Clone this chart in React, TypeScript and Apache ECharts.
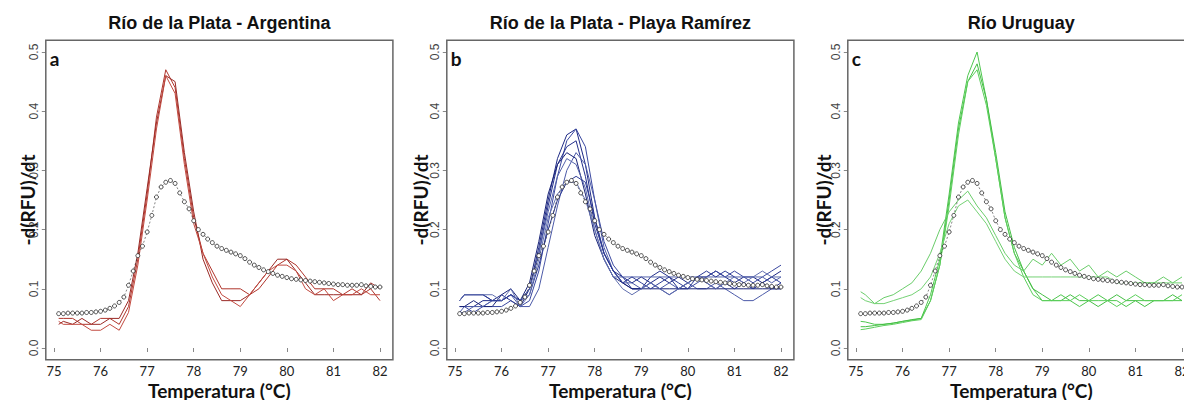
import React, { useEffect, useRef } from "react";
import * as echarts from "echarts";

// ---------- data ----------
const PANEL_TITLES = ["Río de la Plata - Argentina", "Río de la Plata - Playa Ramírez", "Río Uruguay"];
const PANEL_LETTERS = ["a", "b", "c"];
const Y_TITLE = "-d(RFU)/dt";
const X_TITLE = "Temperatura (°C)";

// temperatures of the sample curves
const TEMPS = [75.1, 75.2, 75.4, 75.6, 75.8, 76.0, 76.2, 76.4, 76.6, 76.8, 77.0, 77.2, 77.4, 77.6, 77.8, 78.0, 78.2, 78.4, 78.6, 78.8, 79.0, 79.2, 79.4, 79.6, 79.8, 80.0, 80.2, 80.4, 80.6, 80.8, 81.0, 81.2, 81.4, 81.6, 81.8, 82.0];

// reference (dotted) curve
const REF_T = [75.1, 75.2, 75.3, 75.4, 75.5, 75.6, 75.7, 75.8, 75.9, 76.0, 76.1, 76.2, 76.3, 76.4, 76.5, 76.6, 76.7, 76.8, 76.9, 77.0, 77.1, 77.2, 77.3, 77.4, 77.5, 77.6, 77.7, 77.8, 77.9, 78.0, 78.1, 78.2, 78.3, 78.4, 78.5, 78.6, 78.7, 78.8, 78.9, 79.0, 79.1, 79.2, 79.3, 79.4, 79.5, 79.6, 79.7, 79.8, 79.9, 80.0, 80.1, 80.2, 80.3, 80.4, 80.5, 80.6, 80.7, 80.8, 80.9, 81.0, 81.1, 81.2, 81.3, 81.4, 81.5, 81.6, 81.7, 81.8, 81.9, 82.0];
const REF_V = [0.058, 0.058, 0.059, 0.059, 0.059, 0.059, 0.060, 0.060, 0.061, 0.062, 0.064, 0.067, 0.071, 0.077, 0.086, 0.106, 0.130, 0.156, 0.172, 0.196, 0.224, 0.255, 0.272, 0.280, 0.283, 0.278, 0.262, 0.247, 0.235, 0.215, 0.200, 0.192, 0.184, 0.178, 0.172, 0.168, 0.165, 0.162, 0.159, 0.156, 0.151, 0.145, 0.140, 0.136, 0.132, 0.129, 0.126, 0.123, 0.121, 0.119, 0.117, 0.116, 0.115, 0.114, 0.113, 0.112, 0.111, 0.110, 0.109, 0.108, 0.107, 0.107, 0.106, 0.106, 0.106, 0.107, 0.105, 0.104, 0.103, 0.103];

// panel a (red)
const RED_1 = [0.05, 0.05, 0.05, 0.04, 0.04, 0.05, 0.05, 0.04, 0.07, 0.15, 0.26, 0.39, 0.47, 0.44, 0.32, 0.22, 0.16, 0.13, 0.10, 0.10, 0.10, 0.09, 0.10, 0.12, 0.14, 0.15, 0.14, 0.12, 0.10, 0.10, 0.10, 0.09, 0.10, 0.09, 0.10, 0.08];
const RED_2 = [0.04, 0.045, 0.04, 0.05, 0.04, 0.04, 0.05, 0.05, 0.08, 0.16, 0.27, 0.38, 0.46, 0.45, 0.33, 0.23, 0.15, 0.11, 0.08, 0.08, 0.08, 0.09, 0.11, 0.13, 0.15, 0.15, 0.13, 0.11, 0.09, 0.09, 0.09, 0.09, 0.09, 0.09, 0.11, 0.10];
const RED_3 = [0.045, 0.04, 0.04, 0.04, 0.03, 0.03, 0.04, 0.03, 0.06, 0.14, 0.25, 0.37, 0.46, 0.43, 0.31, 0.21, 0.16, 0.12, 0.09, 0.08, 0.07, 0.09, 0.11, 0.13, 0.14, 0.14, 0.13, 0.10, 0.09, 0.10, 0.08, 0.09, 0.09, 0.10, 0.09, 0.09];

// panel b (blue)
const BLUE_1 = [0.07, 0.07, 0.07, 0.08, 0.08, 0.09, 0.08, 0.07, 0.10, 0.17, 0.25, 0.32, 0.36, 0.37, 0.31, 0.22, 0.16, 0.13, 0.12, 0.11, 0.12, 0.11, 0.12, 0.11, 0.12, 0.11, 0.12, 0.12, 0.13, 0.12, 0.11, 0.12, 0.12, 0.11, 0.12, 0.13];
const BLUE_2 = [0.07, 0.07, 0.06, 0.07, 0.07, 0.07, 0.08, 0.07, 0.08, 0.13, 0.21, 0.29, 0.35, 0.37, 0.34, 0.25, 0.18, 0.14, 0.12, 0.10, 0.10, 0.11, 0.10, 0.09, 0.10, 0.10, 0.11, 0.12, 0.13, 0.12, 0.13, 0.12, 0.11, 0.12, 0.13, 0.14];
const BLUE_3 = [0.08, 0.09, 0.09, 0.09, 0.08, 0.08, 0.09, 0.08, 0.10, 0.16, 0.24, 0.31, 0.34, 0.35, 0.29, 0.21, 0.16, 0.13, 0.11, 0.10, 0.10, 0.12, 0.13, 0.12, 0.10, 0.11, 0.12, 0.11, 0.10, 0.11, 0.10, 0.11, 0.10, 0.11, 0.10, 0.11];
const BLUE_4 = [0.06, 0.07, 0.07, 0.07, 0.08, 0.08, 0.09, 0.07, 0.07, 0.10, 0.17, 0.24, 0.30, 0.33, 0.31, 0.25, 0.17, 0.13, 0.11, 0.11, 0.10, 0.11, 0.10, 0.11, 0.10, 0.11, 0.10, 0.10, 0.11, 0.10, 0.09, 0.08, 0.08, 0.09, 0.10, 0.10];
const BLUE_5 = [0.07, 0.07, 0.08, 0.07, 0.07, 0.09, 0.10, 0.08, 0.11, 0.18, 0.26, 0.31, 0.33, 0.32, 0.26, 0.19, 0.15, 0.12, 0.11, 0.10, 0.10, 0.10, 0.10, 0.10, 0.10, 0.10, 0.10, 0.10, 0.10, 0.10, 0.10, 0.10, 0.10, 0.10, 0.10, 0.10];
const BLUE_6 = [0.06, 0.06, 0.07, 0.07, 0.08, 0.08, 0.09, 0.08, 0.10, 0.16, 0.23, 0.29, 0.32, 0.31, 0.27, 0.20, 0.15, 0.12, 0.12, 0.12, 0.12, 0.12, 0.12, 0.12, 0.12, 0.12, 0.12, 0.12, 0.12, 0.12, 0.12, 0.12, 0.12, 0.12, 0.11, 0.12];
const BLUE_7 = [0.08, 0.09, 0.09, 0.09, 0.08, 0.08, 0.09, 0.08, 0.09, 0.14, 0.20, 0.25, 0.28, 0.29, 0.28, 0.22, 0.16, 0.13, 0.11, 0.12, 0.11, 0.10, 0.11, 0.12, 0.11, 0.10, 0.12, 0.13, 0.12, 0.13, 0.12, 0.11, 0.10, 0.11, 0.12, 0.11];
const BLUE_8 = [0.08, 0.09, 0.09, 0.09, 0.09, 0.08, 0.10, 0.07, 0.09, 0.15, 0.22, 0.26, 0.28, 0.28, 0.25, 0.20, 0.15, 0.12, 0.10, 0.09, 0.10, 0.11, 0.10, 0.09, 0.10, 0.11, 0.12, 0.11, 0.10, 0.11, 0.12, 0.11, 0.12, 0.13, 0.12, 0.12];

// panel c (green)
const GREEN_1 = [0.045, 0.044, 0.04, 0.04, 0.042, 0.045, 0.047, 0.05, 0.09, 0.15, 0.26, 0.38, 0.46, 0.50, 0.42, 0.32, 0.22, 0.16, 0.13, 0.10, 0.08, 0.08, 0.09, 0.08, 0.07, 0.08, 0.09, 0.08, 0.08, 0.07, 0.08, 0.08, 0.08, 0.08, 0.08, 0.08];
const GREEN_2 = [0.036, 0.036, 0.038, 0.04, 0.042, 0.045, 0.048, 0.05, 0.08, 0.14, 0.25, 0.37, 0.45, 0.48, 0.42, 0.33, 0.23, 0.17, 0.13, 0.10, 0.09, 0.08, 0.08, 0.09, 0.08, 0.08, 0.07, 0.08, 0.09, 0.08, 0.08, 0.07, 0.08, 0.08, 0.09, 0.08];
const GREEN_3 = [0.031, 0.032, 0.035, 0.038, 0.04, 0.043, 0.046, 0.048, 0.08, 0.14, 0.24, 0.36, 0.45, 0.47, 0.41, 0.32, 0.22, 0.16, 0.12, 0.09, 0.08, 0.08, 0.08, 0.08, 0.09, 0.08, 0.08, 0.08, 0.07, 0.08, 0.09, 0.08, 0.08, 0.08, 0.08, 0.09];
const GREEN_4 = [0.095, 0.09, 0.075, 0.085, 0.09, 0.10, 0.11, 0.13, 0.16, 0.20, 0.23, 0.25, 0.265, 0.24, 0.22, 0.19, 0.16, 0.14, 0.13, 0.15, 0.14, 0.16, 0.14, 0.15, 0.13, 0.14, 0.12, 0.13, 0.12, 0.13, 0.12, 0.11, 0.11, 0.12, 0.11, 0.12];
const GREEN_5 = [0.085, 0.08, 0.075, 0.075, 0.08, 0.085, 0.09, 0.10, 0.12, 0.16, 0.21, 0.24, 0.25, 0.23, 0.21, 0.18, 0.15, 0.13, 0.12, 0.12, 0.12, 0.12, 0.12, 0.12, 0.12, 0.12, 0.12, 0.12, 0.11, 0.11, 0.11, 0.11, 0.11, 0.11, 0.11, 0.11];

const PANEL_LINES = [
  [RED_1, RED_2, RED_3],
  [BLUE_1, BLUE_2, BLUE_3, BLUE_4, BLUE_5, BLUE_6, BLUE_7, BLUE_8],
  [GREEN_1, GREEN_2, GREEN_3, GREEN_4, GREEN_5],
];
const PANEL_COLORS = [
  ["#b0352c", "#9a2a26", "#c24a40"],
  ["#1e2a86", "#3a48a0", "#24308c", "#4c5aa8", "#1a2478", "#5564ac", "#2e3c96", "#6270b0"],
  ["#4ec74e", "#45bf45", "#5ccf5c", "#6acd6a", "#74d274"],
];

// ---------- layout ----------
const DX = 401;
const GRID_LEFT = 54;
const GRID_TOP = 52;
const GRID_W = 326;
const GRID_H = 296;
const BOX_X = 45.8;
const BOX_Y = 40.2;
const BOX_W = 347.1;
const BOX_H = 319.6;
const YTITLE_X = [27, 420, 823];

export default function App() {
  const ref = useRef<HTMLDivElement>(null);
  useEffect(() => {
    const chart = echarts.init(ref.current as HTMLDivElement, undefined, { renderer: "svg" });
    const grids: any[] = [];
    const xAxes: any[] = [];
    const yAxes: any[] = [];
    const series: any[] = [];
    const graphics: any[] = [];
    for (let i = 0; i < 3; i++) {
      grids.push({ left: GRID_LEFT + i * DX, top: GRID_TOP, width: GRID_W, height: GRID_H, outerBoundsMode: "none", containLabel: false });
      xAxes.push({
        gridIndex: i, type: "value", min: 75, max: 82, interval: 1,
        offset: BOX_Y + BOX_H - (GRID_TOP + GRID_H),
        axisLine: { show: false },
        axisTick: { show: true, length: 4, lineStyle: { color: "#888", width: 1 } },
        axisLabel: { margin: 5, fontSize: 13, fontFamily: "Lato", color: "#222" },
        splitLine: { show: false },
      });
      yAxes.push({
        gridIndex: i, type: "value", min: 0, max: 0.5, interval: 0.1,
        offset: GRID_LEFT - BOX_X,
        axisLine: { show: false },
        axisTick: { show: true, length: 4, lineStyle: { color: "#888", width: 1 } },
        axisLabel: { rotate: 90, margin: 6, fontSize: 12, fontFamily: "Liberation Sans", color: "#444", formatter: (v: number) => v.toFixed(1) },
        splitLine: { show: false },
      });
      PANEL_LINES[i].forEach((vals, k) => {
        series.push({
          type: "line", xAxisIndex: i, yAxisIndex: i, symbol: "none", silent: true, clip: false,
          lineStyle: { width: 1, color: PANEL_COLORS[i][k] },
          data: TEMPS.map((t, j) => [t, vals[j]]),
        });
      });
      series.push({
        type: "line", xAxisIndex: i, yAxisIndex: i, symbol: "circle", symbolSize: 4, silent: true, clip: false,
        itemStyle: { color: "#ffffff", borderWidth: 0.8, borderColor: "#222" },
        lineStyle: { width: 0.6, color: "#333", type: [2, 2] },
        data: REF_T.map((t, j) => [t, REF_V[j]]),
      });
      const bx = BOX_X + i * DX;
      graphics.push({ type: "rect", silent: true, z: 100, shape: { x: bx, y: BOX_Y, width: BOX_W, height: BOX_H }, style: { fill: "none", stroke: "#666", lineWidth: 1.5 } });
      graphics.push({ type: "text", silent: true, x: bx + BOX_W / 2, y: 23, style: { text: PANEL_TITLES[i], font: 'bold 18px "Liberation Sans", Arial, sans-serif', fill: "#111", textAlign: "center", textVerticalAlign: "middle" } });
      graphics.push({ type: "text", silent: true, x: bx + 4, y: 58, style: { text: PANEL_LETTERS[i], font: "bold 19px Lato, sans-serif", fill: "#111", textAlign: "left", textVerticalAlign: "middle" } });
      graphics.push({ type: "text", silent: true, x: YTITLE_X[i], y: 200, rotation: Math.PI / 2, style: { text: Y_TITLE, font: "bold 19px Lato, sans-serif", fill: "#111", textAlign: "center", textVerticalAlign: "middle" } });
      graphics.push({ type: "text", silent: true, x: bx + BOX_W / 2, y: 390, style: { text: X_TITLE, font: "bold 19px Lato, sans-serif", fill: "#111", textAlign: "center", textVerticalAlign: "middle" } });
    }
    chart.setOption({
      animation: false,
      backgroundColor: "#fff",
      grid: grids,
      xAxis: xAxes,
      yAxis: yAxes,
      series,
      graphic: { elements: graphics },
    });
    return () => chart.dispose();
  }, []);
  return (
    <div style={{ position: "fixed", left: 0, top: 0, width: 1184, height: 400, overflow: "hidden", background: "#fff" }}>
      <div ref={ref} style={{ width: 1200, height: 400 }} />
    </div>
  );
}
